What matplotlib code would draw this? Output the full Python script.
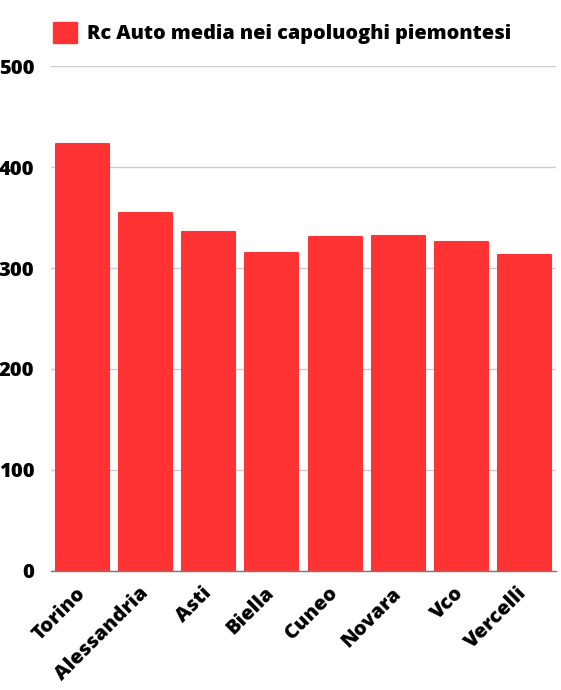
import matplotlib.pyplot as plt
from matplotlib.patches import Patch

cities = ['Torino', 'Alessandria', 'Asti', 'Biella', 'Cuneo', 'Novara', 'Vco', 'Vercelli']
rc_auto = [423, 354, 336, 315, 331, 332, 326, 313]
yticks = [0, 100, 200, 300, 400, 500]
series_name = 'Rc Auto media nei capoluoghi piemontesi'
red = '#ff3333'

plt.rcParams['font.family'] = ['Open Sans', 'DejaVu Sans']
plt.rcParams['font.weight'] = 'heavy'

fig = plt.figure(figsize=(5.61, 6.90), dpi=100)
ax = fig.add_axes([0.0909, 0.1725, 0.9001, 0.7318])

bars = ax.bar(range(len(cities)), rc_auto, width=0.84, color=red,
              edgecolor=red, linewidth=1.5, zorder=3)
for b in bars:
    b.set_joinstyle('round')

ax.set_xlim(-0.5, len(cities) - 0.5)
ax.set_ylim(0, 500)
ax.set_yticks(yticks)
ax.set_yticklabels([str(v) for v in yticks], fontsize=14.5, fontweight='heavy')
ax.set_xticks(range(len(cities)))
ax.set_xticklabels(cities, fontsize=14.5, fontweight='heavy', rotation=45,
                   ha='right', va='center', rotation_mode='anchor')
ax.tick_params(axis='both', length=0)
ax.tick_params(axis='y', pad=12)
ax.tick_params(axis='x', pad=14)

ax.grid(axis='y', color='#cccccc', linewidth=1, zorder=0)
for side in ['top', 'right', 'left']:
    ax.spines[side].set_visible(False)
ax.spines['bottom'].set_color('#777777')
ax.spines['bottom'].set_linewidth(1)
ax.spines['bottom'].set_zorder(4)

handle = Patch(facecolor=red, edgecolor=red)
fig.legend([handle], [series_name], loc='upper left',
           bbox_to_anchor=(0.063, 0.994), frameon=False,
           prop={'size': 14.3, 'weight': 'heavy'},
           handlelength=1.2, handleheight=1.26, handletextpad=0.5)

fig.savefig('out.png', dpi=100, facecolor='white')
